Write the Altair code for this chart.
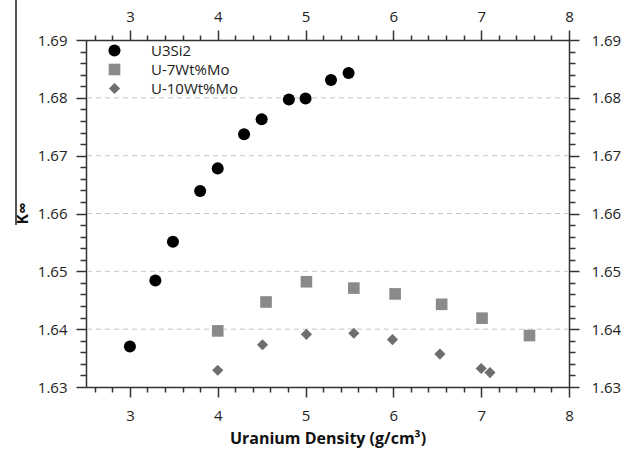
import altair as alt
import pandas as pd

# ---- data ----
series_names = ["U3Si2", "U-7Wt%Mo", "U-10Wt%Mo"]

u3si2_x = [3.0, 3.29, 3.49, 3.80, 4.0, 4.30, 4.50, 4.81, 5.0, 5.29, 5.49]
u3si2_y = [1.6370, 1.6484, 1.6551, 1.6639, 1.6678, 1.6737, 1.6763, 1.6797, 1.6799, 1.6831, 1.6843]

u7_x = [4.0, 4.55, 5.01, 5.55, 6.02, 6.55, 7.01, 7.55]
u7_y = [1.6397, 1.6447, 1.6482, 1.6471, 1.6461, 1.6443, 1.6419, 1.6389]

u10_x = [4.0, 4.51, 5.01, 5.55, 5.99, 6.53, 7.0, 7.1]
u10_y = [1.6329, 1.6373, 1.6391, 1.6393, 1.6382, 1.6357, 1.6332, 1.6325]

grid_values = [1.64, 1.65, 1.66, 1.67, 1.68]
x_tick_values = [round(2.6 + 0.2 * i, 1) for i in range(28)]
y_tick_values = [round(1.63 + 0.002 * i, 3) for i in range(31)]

rows = []
for name, xs, ys in [(series_names[0], u3si2_x, u3si2_y),
                     (series_names[1], u7_x, u7_y),
                     (series_names[2], u10_x, u10_y)]:
    for a, b in zip(xs, ys):
        rows.append({"series": name, "density": a, "k": b})
df = pd.DataFrame(rows)
grid_df = pd.DataFrame({"g": grid_values})

FONT = "Open Sans"
AX = "#333333"

xscale = alt.Scale(domain=[2.5, 8], nice=False, zero=False)
yscale = alt.Scale(domain=[1.63, 1.69], nice=False, zero=False)

x_major = "abs(datum.value - round(datum.value)) < 0.001"
y_major = "abs(datum.value * 100 - round(datum.value * 100)) < 0.001"


def x_axis(orient, title, pad):
    kw = dict(
        orient=orient, values=x_tick_values, format=".0f",
        labelExpr=f"{x_major} ? datum.label : ''",
        tickSize={"condition": {"test": x_major, "value": 10}, "value": 5},
        tickColor=AX, tickWidth=1.5, domainColor=AX, domainWidth=1.5,
        labelFont=FONT, labelFontSize=15, labelColor="#222222", labelPadding=pad,
        grid=False, labelFlush=False, labelOverlap=False,
    )
    if title:
        kw.update(title=title, titleFont=FONT, titleFontSize=16,
                  titleFontWeight="bold", titleColor="#111111", titlePadding=7)
    else:
        kw.update(title=None)
    return alt.Axis(**kw)


def y_axis(orient, title, pad):
    kw = dict(
        orient=orient, values=y_tick_values, format=".2f",
        labelExpr=f"{y_major} ? datum.label : ''",
        tickSize={"condition": {"test": y_major, "value": 10}, "value": 6},
        tickColor=AX, tickWidth=1.5, domainColor=AX, domainWidth=1.5,
        labelFont=FONT, labelFontSize=15, labelColor="#222222", labelPadding=pad,
        grid=False, labelFlush=False, labelOverlap=False,
    )
    if title:
        kw.update(title=title, titleFont=FONT, titleFontSize=16,
                  titleFontWeight="bold", titleColor="#111111",
                  titleX=-64, titleY=173, titleAlign="center",
                  titleBaseline="middle", titleAngle=270)
    else:
        kw.update(title=None)
    return alt.Axis(**kw)


color_scale = alt.Scale(domain=series_names, range=["#000000", "#8a8a8a", "#6e6e6e"])
shape_scale = alt.Scale(domain=series_names, range=["circle", "square", "diamond"])
size_scale = alt.Scale(domain=series_names, range=[145, 125, 72])

legend = alt.Legend(
    title=None, orient="none", legendX=21, legendY=3, padding=0,
    labelFont=FONT, labelFontSize=15, labelColor="#222222",
    labelOffset=29, rowPadding=3, symbolStrokeWidth=0,
)

grid = alt.Chart(grid_df).mark_rule(
    strokeDash=[5, 4], color="#c4c4c4", strokeWidth=1
).encode(y=alt.Y("g:Q", scale=yscale, axis=None))

points = alt.Chart(df).mark_point(filled=True, opacity=1).encode(
    x=alt.X("density:Q", scale=xscale, axis=x_axis("bottom", "Uranium Density (g/cm³)", 11)),
    y=alt.Y("k:Q", scale=yscale, axis=y_axis("left", "K∞", 9)),
    color=alt.Color("series:N", scale=color_scale, legend=legend, sort=series_names),
    shape=alt.Shape("series:N", scale=shape_scale, legend=legend, sort=series_names),
    size=alt.Size("series:N", scale=size_scale, legend=legend, sort=series_names),
)

ghost = alt.Chart(df).mark_point(opacity=0).encode(
    x=alt.X("density:Q", scale=xscale, axis=x_axis("top", None, 6)),
    y=alt.Y("k:Q", scale=yscale, axis=y_axis("right", None, 12)),
)

edge = alt.Chart(grid_df).mark_rule(color="#555555", strokeWidth=1.5).encode(
    x=alt.value(-70), y=alt.value(-40), y2=alt.value(185)
)

chart = alt.layer(grid, edge, points, ghost).resolve_axis(
    x="independent", y="independent"
).properties(
    width=483, height=347,
    autosize=alt.AutoSizeParams(type="none"),
    padding={"left": 86, "top": 40, "right": 65, "bottom": 65},
).configure_view(stroke=None).configure(background="white")

chart.save("out.html", embed_options={"renderer": "svg", "actions": False})
